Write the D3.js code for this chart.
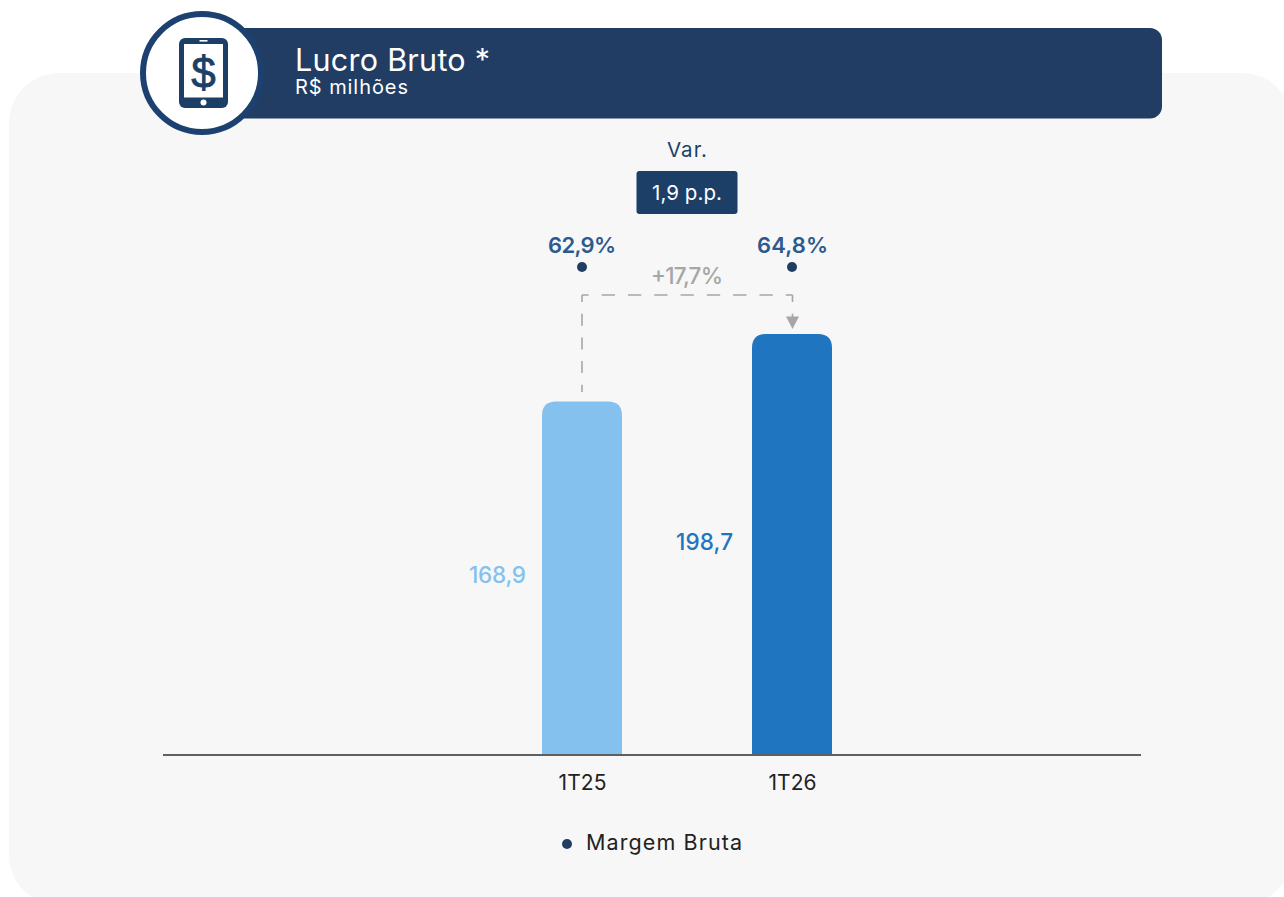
<!DOCTYPE html>
<html>
<head>
<meta charset="utf-8">
<script src="https://cdn.jsdelivr.net/npm/d3@7"></script>
<style>
html, body { margin: 0; padding: 0; background: #fff; overflow: hidden; }
svg { display: block; }
text { font-family: Inter, "Open Sans", sans-serif; }
</style>
</head>
<body>
<svg id="chart" width="1284" height="897"></svg>
<script>
const periods = ["1T25", "1T26"];
const grossProfit = [168.9, 198.7];
const grossProfitLabels = ["168,9", "198,7"];
const marginLabels = ["62,9%", "64,8%"];
const barColors = ["#85c1ee", "#1f75bf"];
const growthLabel = "+17,7%";
const marginVar = "1,9 p.p.";
const legendLabel = "Margem Bruta";

const svg = d3.select("#chart");
const navy = "#223d63", boxBlue = "#1c3f68", marginBlue = "#2c5a8f", grey = "#a6a6a6";

// text helper, width is forced so the wider original lettering is kept
function label(x, y, str, size, fill, anchor, len, weight){
    const t = svg.append("text").attr("x", x).attr("y", y).text(str)
        .attr("font-size", size).attr("fill", fill)
        .attr("text-anchor", anchor || "start")
        .attr("font-weight", weight || 400);
    if(len) t.attr("textLength", len).attr("lengthAdjust", "spacing");
    return t;
}

// background panel, runs off the right and bottom of the page
svg.append("rect").attr("x", 9).attr("y", 73).attr("width", 1283).attr("height", 832)
    .attr("rx", 50).attr("fill", "#f7f7f7");

// header
svg.append("rect").attr("x", 200).attr("y", 28).attr("width", 962).attr("height", 90.5)
    .attr("rx", 12).attr("fill", navy);
svg.append("circle").attr("cx", 202).attr("cy", 73).attr("r", 59)
    .attr("fill", "#fff").attr("stroke", "#1c4170").attr("stroke-width", 6);

// phone icon
svg.append("rect").attr("x", 179).attr("y", 38).attr("width", 49).attr("height", 70).attr("rx", 6).attr("fill", boxBlue);
svg.append("rect").attr("x", 184).attr("y", 44).attr("width", 39).attr("height", 53.5).attr("fill", "#fff");
svg.append("rect").attr("x", 199.5).attr("y", 40).attr("width", 8).attr("height", 1.6).attr("fill", "#fff");
svg.append("circle").attr("cx", 203.5).attr("cy", 102.5).attr("r", 3).attr("fill", "#fff");
label(203.5, 88, "$", 44, boxBlue, "middle").style("font-family", "'Liberation Sans'")
    .attr("stroke", boxBlue).attr("stroke-width", 0.8);

label(295, 71, "Lucro Bruto *", 30.5, "#fff", "start", 195);
label(295, 94, "R$ milhões", 20, "#fff", "start", 113);

// scales
const baseY = 754.5, barW = 80, corner = 14;
const x = d3.scalePoint().domain(periods).range([582, 792]);
// bars in the original do not start at zero
const y = d3.scaleLinear().domain([13, 198.7]).range([baseY, 334]);

// bars
svg.append("g").selectAll("path")
    .data(periods)
    .join("path")
    .attr("fill", (d,i) => barColors[i])
    .attr("d", (d,i) => {
        const l = x(d) - barW/2, r = x(d) + barW/2, t = y(grossProfit[i]);
        return "M" + l + "," + baseY + "V" + (t+corner) + "Q" + l + "," + t + " " + (l+corner) + "," + t +
            "H" + (r-corner) + "Q" + r + "," + t + " " + r + "," + (t+corner) + "V" + baseY + "Z";
    });

// axis
svg.append("line").attr("x1", 163).attr("x2", 1141).attr("y1", baseY+0.5).attr("y2", baseY+0.5)
    .attr("stroke", "#5f5f5f").attr("stroke-width", 2);
const axis = svg.append("g").attr("transform", "translate(0," + baseY + ")")
    .call(d3.axisBottom(x).tickSize(0).tickPadding(21));
axis.select(".domain").remove();
axis.selectAll("text")
    .attr("font-size", 21).attr("fill", "#222").style("font-family", "Inter")
    .attr("textLength", 48).attr("lengthAdjust", "spacing");

// value labels beside the bars
const valueGap = [16, 19];
periods.forEach((p, i) => {
    const mid = (y(grossProfit[i]) + baseY) / 2;
    label(x(p) - barW/2 - valueGap[i], mid + 5.5, grossProfitLabels[i], 22.5, barColors[i], "end", 57, 500);
    label(x(p) + (i ? 0.5 : 0), 253, marginLabels[i], 22, marginBlue, "middle", i ? 71 : 68, 600);
    svg.append("circle").attr("cx", x(p)).attr("cy", 267).attr("r", 5).attr("fill", navy);
});

// variation box
label(687, 157, "Var.", 20.5, boxBlue, "middle", 40);
svg.append("rect").attr("x", 636.5).attr("y", 171).attr("width", 101).attr("height", 43).attr("rx", 3).attr("fill", boxBlue);
label(687, 200, marginVar, 20.5, "#fff", "middle", 70);

// dashed growth connector
const topY = 295, x0 = x(periods[0]), x1 = x(periods[1]) + 0.5;
const dashes = svg.append("g").attr("fill", "none").attr("stroke", grey).attr("stroke-width", 1.6);
dashes.append("path").attr("d", "M" + x0 + "," + topY + "V392")
    .attr("stroke-dasharray", "12 11.7").attr("stroke-dashoffset", 5);
dashes.append("path").attr("d", "M" + x0 + "," + topY + "H" + x1)
    .attr("stroke-dasharray", "13.3 13").attr("stroke-dashoffset", 6.65);
dashes.append("path").attr("d", "M" + x1 + "," + topY + "V318")
    .attr("stroke-dasharray", "12 11.7").attr("stroke-dashoffset", 5);
svg.append("path")
    .attr("d", "M786,316.5H799L792.5,329Z").attr("fill", grey);
label(687, 284, growthLabel, 22.5, grey, "middle", 72, 500);

// legend
svg.append("circle").attr("cx", 567).attr("cy", 844).attr("r", 5).attr("fill", navy);
label(586, 850, legendLabel, 21.5, "#222", "start", 156);
</script>
</body>
</html>
